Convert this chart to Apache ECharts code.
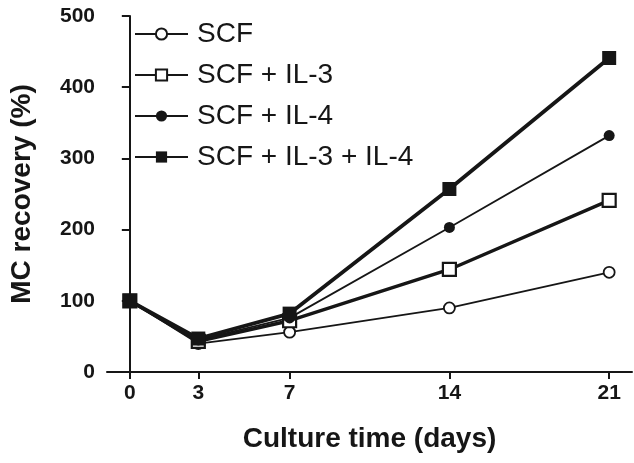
<!DOCTYPE html>
<html>
<head>
<meta charset="utf-8">
<script src="https://cdn.jsdelivr.net/npm/echarts@6/dist/echarts.min.js"></script>
<style>html,body{margin:0;padding:0;background:#fff}#c{width:634px;height:463px}</style>
</head>
<body>
<div id="c"></div>
<script>
const days = [0, 3, 7, 14, 21];
const xTicks = [0, 3, 7, 14, 21];
const seriesNames = ['SCF', 'SCF + IL-3', 'SCF + IL-4', 'SCF + IL-3 + IL-4'];
const scf = [100, 40, 56, 90, 140];
const scfIl3 = [100, 43, 72, 144, 241];
const scfIl4 = [100, 45, 76, 203, 332];
const scfIl3Il4 = [100, 47, 82, 257, 441];

const ink = '#161616';
const font = 'Liberation Sans, Arial, sans-serif';
const pairs = (vals) => days.map((d, i) => [d, vals[i]]);

const styles = [
  {symbol: 'circle', size: 11, fill: '#fff', bw: 1.8, lw: 1.8},
  {symbol: 'rect', size: 13, fill: '#fff', bw: 2.2, lw: 3.4},
  {symbol: 'circle', size: 11, fill: ink, bw: 0, lw: 1.8},
  {symbol: 'rect', size: 14, fill: ink, bw: 0, lw: 3.8}
];
const allVals = [scf, scfIl3, scfIl4, scfIl3Il4];

const chart = echarts.init(document.getElementById('c'));
chart.setOption({
  animation: false,
  backgroundColor: '#fff',
  grid: {left: 107, right: 2, top: 16, bottom: 91, containLabel: false},
  legend: {
    orient: 'vertical',
    left: 134,
    top: 20,
    padding: 0,
    itemWidth: 53,
    itemHeight: 14,
    itemGap: 13,
    data: seriesNames,
    textStyle: {fontFamily: font, fontSize: 28, color: ink, lineHeight: 28, padding: [0, 0, 0, 4]}
  },
  xAxis: {
    type: 'value',
    min: -1,
    max: 22,
    interval: 1,
    name: 'Culture time (days)',
    nameLocation: 'middle',
    nameGap: 53,
    nameTextStyle: {fontFamily: font, fontSize: 28, fontWeight: 'bold', color: ink},
    axisLine: {lineStyle: {color: ink, width: 2}},
    axisTick: {show: true, length: 7, lineStyle: {color: ink, width: 2},
      customValues: xTicks},
    axisLabel: {fontFamily: font, fontSize: 21, fontWeight: 'bold', color: ink, margin: 11,
      customValues: xTicks},
    splitLine: {show: false}
  },
  yAxis: {
    type: 'value',
    min: 0,
    max: 500,
    interval: 100,
    name: 'MC recovery (%)',
    nameLocation: 'middle',
    nameGap: 71,
    nameTextStyle: {fontFamily: font, fontSize: 28, fontWeight: 'bold', color: ink},
    axisLine: {show: true, lineStyle: {color: ink, width: 2}},
    axisTick: {show: true, length: 8, lineStyle: {color: ink, width: 2}},
    axisLabel: {fontFamily: font, fontSize: 21, fontWeight: 'bold', color: ink, margin: 12},
    splitLine: {show: false}
  },
  series: seriesNames.map((name, i) => ({
    name: name,
    type: 'line',
    data: pairs(allVals[i]),
    symbol: styles[i].symbol,
    symbolSize: styles[i].size,
    showAllSymbol: true,
    lineStyle: {color: ink, width: styles[i].lw},
    itemStyle: {color: styles[i].fill, borderColor: ink, borderWidth: styles[i].bw},
    emphasis: {disabled: true},
    z: 2 + i
  }))
});
</script>
</body>
</html>
